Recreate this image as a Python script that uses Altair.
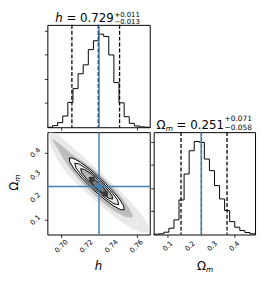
import altair as alt
import numpy as np
import pandas as pd

# ---------------- data ----------------
h_range = [0.6887, 0.7705]
om_range = [0.036, 0.492]

h_counts = [0, 20, 57, 139, 308, 480, 664, 775, 964, 1074, 1156, 1128, 898, 554, 303, 131, 49, 16, 4, 0]
om_counts = [4, 9, 30, 81, 189, 446, 781, 1081, 1201, 1188, 974, 824, 631, 459, 309, 167, 94, 51, 26, 9]

h_quantiles = [0.7083, 0.7294, 0.7464]
om_quantiles = [0.159, 0.251, 0.366]
h_truth = 0.73
om_truth = 0.25

h_ticks = [0.70, 0.72, 0.74, 0.76]
h_tick_labels = ["0.70", "0.72", "0.74", "0.76"]
om_ticks = [0.1, 0.2, 0.3, 0.4]
om_tick_labels = ["0.1", "0.2", "0.3", "0.4"]
count_ticks = [300, 600, 900, 1200]

# scatter cloud extents (h, Omega_m)
cloud_outer_h = [0.6905, 0.6963, 0.7041, 0.7145, 0.7250, 0.7354, 0.7459, 0.7563, 0.7641, 0.7693, 0.7699,
                 0.7641, 0.7563, 0.7459, 0.7354, 0.7250, 0.7145, 0.7041, 0.6976, 0.6924, 0.6900]
cloud_outer_om = [0.490, 0.484, 0.446, 0.396, 0.343, 0.288, 0.234, 0.175, 0.122, 0.075, 0.048,
                  0.045, 0.063, 0.101, 0.148, 0.198, 0.251, 0.310, 0.362, 0.421, 0.465]
cloud_inner_h = [0.6931, 0.7015, 0.7093, 0.7171, 0.7252, 0.7339, 0.7419, 0.7482, 0.7532, 0.7568, 0.7563,
                 0.7511, 0.7438, 0.7367, 0.7297, 0.7224, 0.7145, 0.7080, 0.7028, 0.6976, 0.6931]
cloud_inner_om = [0.460, 0.425, 0.388, 0.360, 0.328, 0.285, 0.240, 0.200, 0.160, 0.123, 0.112,
                  0.116, 0.135, 0.163, 0.195, 0.234, 0.279, 0.322, 0.363, 0.415, 0.455]

# contour levels (2, 1.5, 1, 0.5 sigma)
c20_h = [0.7501, 0.7470, 0.7411, 0.7332, 0.7246, 0.7164, 0.7101, 0.7065, 0.7062, 0.7092, 0.7151, 0.7230,
         0.7317, 0.7398, 0.7462, 0.7497]
c20_om = [0.146, 0.147, 0.165, 0.198, 0.240, 0.286, 0.328, 0.360, 0.377, 0.376, 0.358, 0.326,
          0.283, 0.237, 0.195, 0.163]
c15_h = [0.7457, 0.7419, 0.7345, 0.7253, 0.7169, 0.7115, 0.7106, 0.7143, 0.7218, 0.7310, 0.7394, 0.7448]
c15_om = [0.169, 0.173, 0.201, 0.244, 0.293, 0.333, 0.354, 0.350, 0.323, 0.279, 0.230, 0.190]
c10_h = [0.7409, 0.7381, 0.7327, 0.7260, 0.7199, 0.7160, 0.7153, 0.7181, 0.7236, 0.7303, 0.7364, 0.7403]
c10_om = [0.194, 0.197, 0.217, 0.249, 0.284, 0.313, 0.329, 0.326, 0.307, 0.275, 0.239, 0.210]
c05_h = [0.7367, 0.7350, 0.7318, 0.7280, 0.7245, 0.7224, 0.7222, 0.7239, 0.7270, 0.7309, 0.7343, 0.7364]
c05_om = [0.214, 0.214, 0.225, 0.243, 0.263, 0.280, 0.290, 0.289, 0.278, 0.260, 0.240, 0.223]

dark_h_lo = [0.7221, 0.7330]
dark_h_hi = [0.7262, 0.7371]
dark_om_lo = [0.270, 0.205]
dark_om_hi = [0.293, 0.228]

h_title = ["h", "= 0.729", "+0.011", "\u22120.013"]
om_title = ["\u03a9", "m", "= 0.251", "+0.071", "\u22120.058"]

# ---------------- helpers ----------------
W, H, WR = 104, 104, 103
FONT = "DejaVu Sans"
BLUE = "#4682b4"
dummy = pd.DataFrame({"a": [0]})


def step_df(counts, rng):
    edges = np.linspace(rng[0], rng[1], len(counts) + 1)
    xs, ys = [edges[0]], [0]
    for i, c in enumerate(counts):
        xs += [edges[i], edges[i + 1]]
        ys += [c, c]
    xs.append(edges[-1])
    ys.append(0)
    return pd.DataFrame({"x": xs, "y": ys, "o": range(len(xs))})


def poly_df(hs, oms):
    hs = list(hs) + [hs[0]]
    oms = list(oms) + [oms[0]]
    return pd.DataFrame({"x": hs, "y": oms, "o": range(len(hs))})


def poly(hs, oms, fill, stroke=None):
    if stroke:
        m = alt.Chart(poly_df(hs, oms)).mark_line(fill=fill, stroke=stroke, strokeWidth=1, clip=True)
    else:
        m = alt.Chart(poly_df(hs, oms)).mark_line(fill=fill, stroke=fill, strokeWidth=0.5, clip=True)
    return m.encode(x="x:Q", y="y:Q", order="o:Q")


def txt(s, x, y, size=12, italic=False, angle=0, align="left"):
    kw = dict(text=s, font=FONT, fontSize=size, align=align, baseline="alphabetic", color="black")
    if italic:
        kw["fontStyle"] = "italic"
    if angle:
        kw["angle"] = angle
    return alt.Chart(dummy).mark_text(**kw).encode(x=alt.value(x), y=alt.value(y))


def x_labels(vals, labels):
    return alt.Chart(pd.DataFrame({"x": vals, "t": labels})).mark_text(
        font=FONT, fontSize=7, angle=315, align="center", baseline="middle", color="black"
    ).encode(x="x:Q", y=alt.value(H + 12), text="t:N")


def y_labels(vals, labels):
    return alt.Chart(pd.DataFrame({"y": vals, "t": labels})).mark_text(
        font=FONT, fontSize=7, angle=315, align="center", baseline="middle", color="black"
    ).encode(y="y:Q", x=alt.value(-12), text="t:N")


def quant_rules(vals):
    return alt.Chart(pd.DataFrame({"x": vals})).mark_rule(
        color="black", strokeDash=[4, 2], strokeWidth=1.3).encode(x="x:Q")


def truth_rule_x(v):
    return alt.Chart(pd.DataFrame({"x": [v]})).mark_rule(color=BLUE, strokeWidth=1.5).encode(x="x:Q")


no_lab = dict(labels=False, title=None, tickSize=3)

# ---------------- top-left: h histogram ----------------
top_line = alt.Chart(step_df(h_counts, h_range)).mark_line(color="black", strokeWidth=1).encode(
    x=alt.X("x:Q", scale=alt.Scale(domain=h_range, nice=False, zero=False),
            axis=alt.Axis(values=h_ticks, **no_lab)),
    y=alt.Y("y:Q", scale=alt.Scale(domain=[0, 1.1 * max(h_counts)], nice=False, zero=True),
            axis=alt.Axis(values=count_ticks, **no_lab)),
    order="o:Q",
)
anchor = alt.Chart(dummy).mark_rule(strokeOpacity=0, strokeWidth=0).encode(
    x=alt.value(-39), x2=alt.value(-39), y=alt.value(-13.5), y2=alt.value(-13.5))
top = alt.layer(
    top_line,
    quant_rules(h_quantiles),
    truth_rule_x(h_truth),
    txt(h_title[0], 8, -3, italic=True),
    txt(h_title[1], 19.4, -3),
    txt(h_title[2], 68.1, -8, size=7),
    txt(h_title[3], 68.1, -0.4, size=7),
    anchor,
).properties(width=W, height=H)

blank = alt.Chart(dummy).mark_text(text="").encode(x=alt.value(0), y=alt.value(0)).properties(
    width=WR, height=H, view=alt.ViewBackground(stroke="transparent"))

# ---------------- bottom-left: 2D ----------------
cloud = alt.Chart(poly_df(cloud_outer_h, cloud_outer_om)).mark_line(
    fill="#e9e9e9", stroke="#e9e9e9", strokeWidth=0.5, clip=True).encode(
    x=alt.X("x:Q", scale=alt.Scale(domain=h_range, nice=False, zero=False),
            axis=alt.Axis(values=h_ticks, **no_lab)),
    y=alt.Y("y:Q", scale=alt.Scale(domain=om_range, nice=False, zero=False),
            axis=alt.Axis(values=om_ticks, **no_lab)),
    order="o:Q",
)
dark = alt.Chart(pd.DataFrame({"x": dark_h_lo, "x2": dark_h_hi, "y": dark_om_lo, "y2": dark_om_hi})).mark_rect(
    color="#3a3a3a").encode(x="x:Q", x2="x2:Q", y="y:Q", y2="y2:Q")
mid = alt.layer(
    cloud,
    poly(cloud_inner_h, cloud_inner_om, "#bdbdbd"),
    poly(c20_h, c20_om, "white", "black"),
    poly(c15_h, c15_om, "#ececec", "black"),
    poly(c10_h, c10_om, "#b3b3b3", "black"),
    poly(c05_h, c05_om, "#7a7a7a", "black"),
    dark,
    truth_rule_x(h_truth),
    alt.Chart(pd.DataFrame({"y": [om_truth]})).mark_rule(color=BLUE, strokeWidth=1.5).encode(y="y:Q"),
    alt.Chart(pd.DataFrame({"x": [h_truth], "y": [om_truth]})).mark_point(
        filled=True, color=BLUE, size=30, opacity=1).encode(x="x:Q", y="y:Q"),
    x_labels(h_ticks, h_tick_labels),
    y_labels(om_ticks, om_tick_labels),
    txt("h", 52, 140, italic=True, align="center"),
    txt(om_title[0], -29.5, 59.5, angle=270),
    txt(om_title[1], -27.5, 50.3, size=7.5, italic=True, angle=270),
).properties(width=W, height=H)

# ---------------- bottom-right: Omega_m histogram ----------------
right_line = alt.Chart(step_df(om_counts, om_range)).mark_line(color="black", strokeWidth=1).encode(
    x=alt.X("x:Q", scale=alt.Scale(domain=om_range, nice=False, zero=False),
            axis=alt.Axis(values=om_ticks, **no_lab)),
    y=alt.Y("y:Q", scale=alt.Scale(domain=[0, 1.1 * max(om_counts)], nice=False, zero=True),
            axis=alt.Axis(values=count_ticks, **no_lab)),
    order="o:Q",
)
right = alt.layer(
    right_line,
    quant_rules(om_quantiles),
    truth_rule_x(om_truth),
    x_labels(om_ticks, om_tick_labels),
    txt(om_title[0], 3, -3.5),
    txt(om_title[1], 12.2, -1.5, size=7.5, italic=True),
    txt(om_title[2], 23.3, -3.5),
    txt(om_title[3], 72, -11, size=7.5),
    txt(om_title[4], 72, -2.5, size=7.5),
    txt(om_title[0], 44, 140),
    txt(om_title[1], 53.2, 142, size=7.5, italic=True),
).properties(width=WR, height=H)

chart = alt.concat(
    top, blank, mid, right, columns=2, spacing={"row": 5, "column": 4}, bounds="flush", padding=0
).configure_axis(
    tickColor="black", tickWidth=0.8, domain=False, grid=False,
).configure_view(stroke="black", strokeWidth=1).properties(background="white")

chart.save("out.html", embed_options={"renderer": "svg", "actions": False})
